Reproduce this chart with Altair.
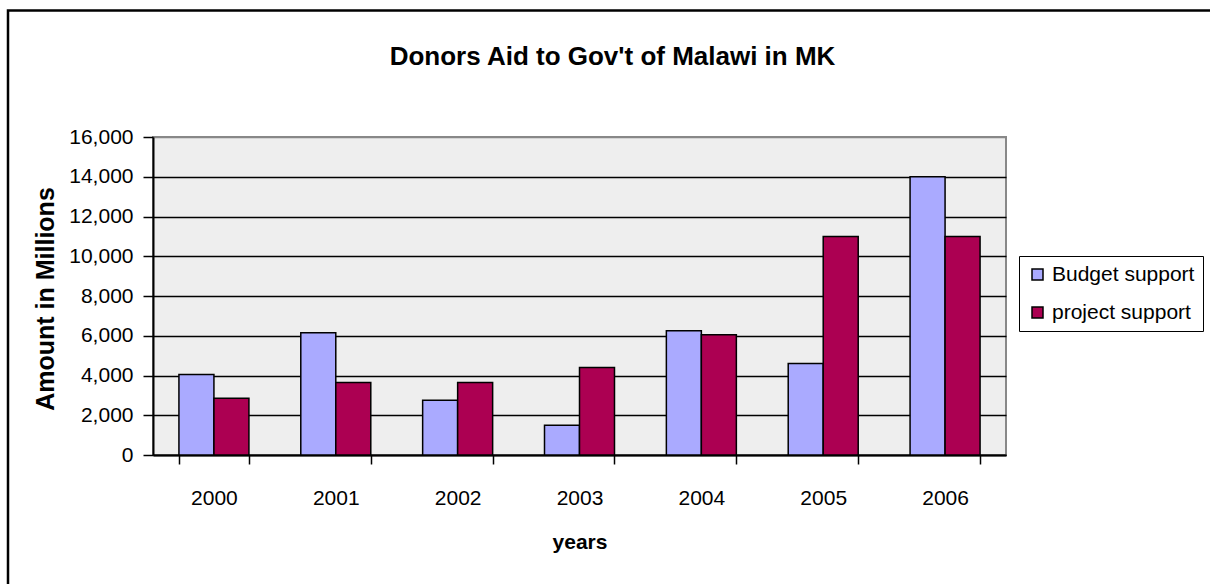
import altair as alt
import pandas as pd

years = ["2000", "2001", "2002", "2003", "2004", "2005", "2006"]
series = ["Budget support", "project support"]
budget = [4050, 6150, 2750, 1500, 6250, 4600, 14000]
project = [2850, 3650, 3650, 4400, 6050, 11000, 11000]
y_ticks = [0, 2000, 4000, 6000, 8000, 10000, 12000, 14000, 16000]
colors = ["#AAAAFF", "#AC0052"]
title_text = "Donors Aid to Gov't of Malawi in MK"

rows = []
for i, yr in enumerate(years):
    rows.append({"year": yr, "series": series[0], "amount": budget[i]})
    rows.append({"year": yr, "series": series[1], "amount": project[i]})
df = pd.DataFrame(rows)

FONT = "Liberation Sans"

bars = alt.Chart(df).mark_bar(stroke="black", strokeWidth=1.5).encode(
    x=alt.X(
        "year:N",
        sort=years,
        scale=alt.Scale(paddingInner=0.4256, paddingOuter=0.2128),
        axis=alt.Axis(
            title="years",
            labelAngle=0,
            tickBand="extent",
            grid=False,
            domainColor="black",
            domainWidth=2,
            tickColor="black",
            tickSize=9,
            tickWidth=1.5,
            labelFontSize=21,
            labelColor="black",
            labelPadding=23,
            titleFontSize=21,
            titleFontWeight="bold",
            titleColor="black",
            titleX=426.5,
            titleY=93,
            titleBaseline="alphabetic",
            titleAlign="center",
        ),
    ),
    xOffset=alt.XOffset("series:N", sort=series, scale=alt.Scale(paddingInner=0, paddingOuter=0)),
    y=alt.Y(
        "amount:Q",
        scale=alt.Scale(domain=[0, 16000], nice=False),
        axis=alt.Axis(
            title="Amount in Millions",
            values=y_ticks,
            format=",.0f",
            grid=True,
            gridColor=alt.condition("datum.value === 16000", alt.value("#888888"), alt.value("black")),
            gridWidth=1.5,
            domainColor="black",
            domainWidth=2,
            tickColor="black",
            tickSize=10,
            tickWidth=1.5,
            labelFontSize=21,
            labelColor="black",
            labelPadding=10,
            titleFontSize=25,
            titleFontWeight="bold",
            titleColor="black",
            titleAngle=270,
            titleX=-100,
            titleY=161.5,
            titleBaseline="alphabetic",
            titleAlign="center",
        ),
    ),
    color=alt.Color(
        "series:N",
        sort=series,
        scale=alt.Scale(domain=series, range=colors),
        legend=alt.Legend(
            orient="none",
            legendX=866,
            legendY=119,
            title=None,
            labelFontSize=21,
            labelColor="black",
            symbolType="square",
            symbolSize=121,
            symbolStrokeColor="black",
            symbolStrokeWidth=1.5,
            strokeColor="black",
            fillColor="white",
            padding=8,
            rowPadding=16,
            labelOffset=4,
        ),
    ),
)

border = alt.Chart(alt.Data(values=[{"b": 1}])).mark_rect(
    filled=False, stroke="black", strokeWidth=2.5
).encode(
    x=alt.value(-145), x2=alt.value(1100), y=alt.value(-126.5), y2=alt.value(500)
)

title = alt.Chart(alt.Data(values=[{"t": title_text}])).mark_text(
    font=FONT, fontSize=26, fontWeight="bold", color="black",
    align="center", baseline="alphabetic"
).encode(
    text="t:N", x=alt.value(459.5), y=alt.value(-72)
)

chart = alt.layer(border, bars, title).properties(
    width=853,
    height=318,
    padding={"left": 153, "top": 137, "right": 204, "bottom": 129},
    autosize=alt.AutoSizeParams(type="none"),
    background="white",
).configure(font=FONT).configure_view(
    fill="#EEEEEE", stroke="#888888", strokeWidth=2
)

chart.save("out.html", embed_options={"renderer": "svg", "actions": False})
